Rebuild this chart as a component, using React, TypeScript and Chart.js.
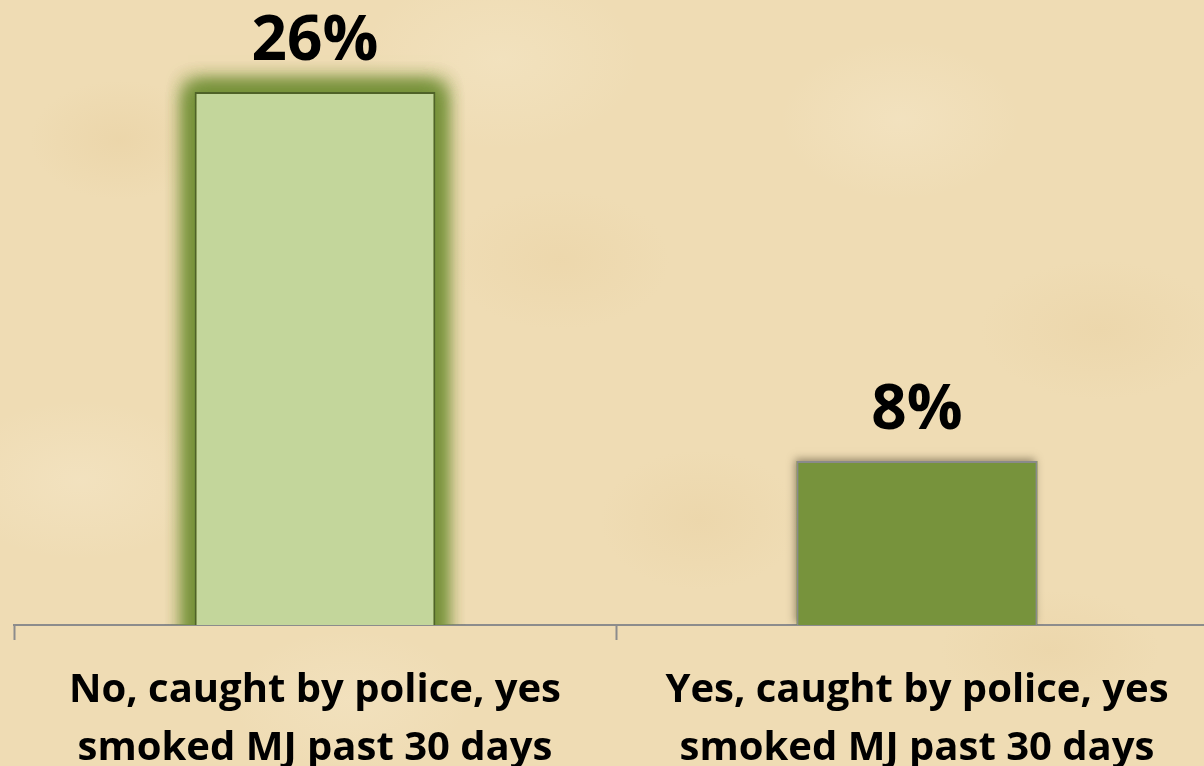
import React, { useEffect, useRef } from "react";
import { Chart, registerables } from "chart.js";

Chart.register(...registerables);

const categories: string[][] = [
  ["No, caught by police, yes", "smoked MJ past 30 days"],
  ["Yes, caught by police, yes", "smoked MJ past 30 days"],
];
const values: number[] = [26, 8];
const valueLabels: string[] = ["26%", "8%"];
const barFills: string[] = ["#c3d69b", "#77933c"];
const barBorders: string[] = ["#4f6228", "#8a8a8a"];

const FONT = "'Open Sans', 'DejaVu Sans', sans-serif";

const effectsPlugin = {
  id: "barEffects",
  beforeDatasetsDraw(chart: any) {
    const ctx = chart.ctx;
    const meta = chart.getDatasetMeta(0);
    const area = chart.chartArea;
    ctx.save();
    ctx.beginPath();
    ctx.rect(0, 0, chart.width, area.bottom);
    ctx.clip();
    meta.data.forEach((bar: any, i: number) => {
      const w = bar.width;
      const left = bar.x - w / 2;
      const top = bar.y;
      const h = bar.base - bar.y;
      if (i === 0) {
        // soft green glow: shadow only (rect drawn off-canvas)
        const off = 5000;
        ctx.shadowColor = "rgba(118,146,58,1)";
        ctx.shadowBlur = 20;
        ctx.shadowOffsetX = off;
        ctx.shadowOffsetY = 0;
        ctx.fillStyle = "#000";
        for (let k = 0; k < 3; k++) {
          ctx.fillRect(left - 7 - off, top - 7, w + 14, h + 30);
        }
      } else {
        ctx.shadowColor = "rgba(60,50,30,0.5)";
        ctx.shadowBlur = 8;
        ctx.shadowOffsetX = -2;
        ctx.shadowOffsetY = -2;
        ctx.fillStyle = "#77933c";
        ctx.fillRect(left, top, w, h);
      }
      ctx.shadowColor = "transparent";
      ctx.shadowBlur = 0;
      ctx.shadowOffsetX = 0;
      ctx.shadowOffsetY = 0;
    });
    ctx.restore();
  },
  afterDatasetsDraw(chart: any) {
    const ctx = chart.ctx;
    const meta = chart.getDatasetMeta(0);
    ctx.save();
    ctx.fillStyle = "#000";
    ctx.font = `bold 62px ${FONT}`;
    ctx.textAlign = "center";
    ctx.textBaseline = "alphabetic";
    meta.data.forEach((bar: any, i: number) => {
      ctx.fillText(valueLabels[i], bar.x, bar.y - 32);
    });
    ctx.restore();
  },
};

export default function App() {
  const ref = useRef<HTMLCanvasElement | null>(null);
  useEffect(() => {
    if (!ref.current) return;
    const chart = new Chart(ref.current, {
      type: "bar",
      data: {
        labels: categories,
        datasets: [
          {
            data: values,
            backgroundColor: barFills,
            borderColor: barBorders,
            borderWidth: 2,
            borderSkipped: "bottom",
            categoryPercentage: 1,
            barPercentage: 0.4,
          },
        ],
      },
      options: {
        responsive: false,
        animation: false,
        events: [],
        layout: { padding: { left: 14, right: 12, top: 10, bottom: 0 } },
        plugins: {
          legend: { display: false },
          tooltip: { enabled: false },
          title: { display: false },
        },
        scales: {
          y: {
            display: false,
            min: 0,
            max: 30,
          },
          x: {
            afterFit: (scale: any) => {
              scale.height = 141;
            },
            border: { display: true, color: "#8c8c8c", width: 2 },
            grid: {
              display: true,
              drawOnChartArea: false,
              drawTicks: true,
              tickLength: 15,
              tickWidth: 2,
              tickColor: "#8c8c8c",
              offset: true,
            },
            ticks: {
              color: "#000",
              padding: 22,
              maxRotation: 0,
              autoSkip: false,
              font: { family: FONT, weight: "bold", size: 40, lineHeight: "58px" as any },
            },
          },
        },
      },
      plugins: [effectsPlugin],
    });
    return () => chart.destroy();
  }, []);

  const bg: React.CSSProperties = {
    position: "absolute",
    left: 0,
    top: 0,
    width: 1204,
    height: 766,
    overflow: "hidden",
    backgroundColor: "#efdcb4",
    backgroundImage: [
      "radial-gradient(ellipse 90px 60px at 120px 140px, rgba(228,200,148,0.3), transparent)",
      "radial-gradient(ellipse 110px 70px at 560px 260px, rgba(230,202,150,0.25), transparent)",
      "radial-gradient(ellipse 120px 80px at 900px 120px, rgba(248,236,210,0.35), transparent)",
      "radial-gradient(ellipse 100px 70px at 700px 520px, rgba(228,200,148,0.25), transparent)",
      "radial-gradient(ellipse 130px 80px at 80px 480px, rgba(248,236,210,0.35), transparent)",
      "radial-gradient(ellipse 120px 70px at 1100px 330px, rgba(228,200,148,0.25), transparent)",
      "radial-gradient(ellipse 140px 90px at 500px 60px, rgba(248,238,212,0.3), transparent)",
      "radial-gradient(ellipse 110px 60px at 1050px 650px, rgba(228,200,148,0.25), transparent)",
      "radial-gradient(ellipse 120px 70px at 350px 700px, rgba(248,236,210,0.3), transparent)",
    ].join(", "),
  };

  return (
    <div style={bg}>
      <canvas ref={ref} width={1230} height={766} style={{ display: "block", width: 1230, height: 766 }} />
    </div>
  );
}
